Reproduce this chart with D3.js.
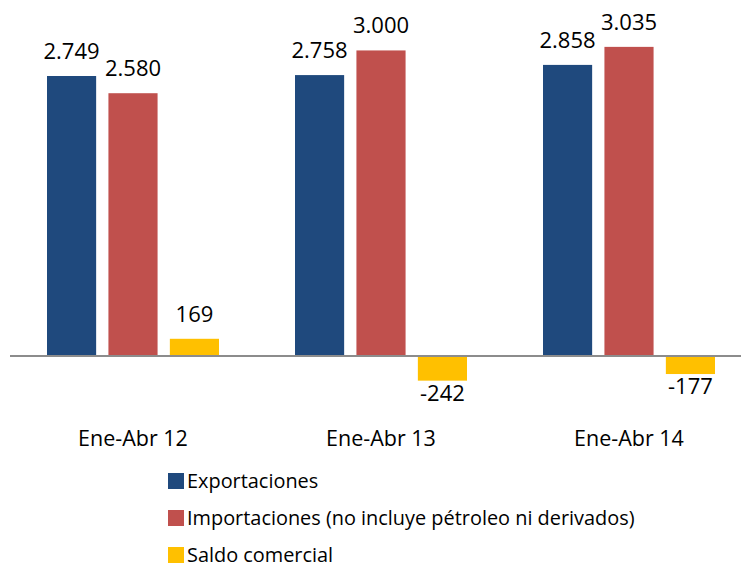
<!DOCTYPE html>
<html>
<head>
<meta charset="utf-8">
<script src="https://cdn.jsdelivr.net/npm/d3@7"></script>
<style>
  body { margin: 0; background: #fff; }
  text { font-family: "Open Sans", sans-serif; fill: #000; }
</style>
</head>
<body>
<svg id="chart" width="741" height="569"></svg>
<script>
const categories = ['Ene-Abr 12', 'Ene-Abr 13', 'Ene-Abr 14']
const seriesNames = ['Exportaciones', 'Importaciones (no incluye pétroleo ni derivados)', 'Saldo comercial']
const exportaciones = [2749, 2758, 2858]
const importaciones = [2580, 3000, 3035]
const saldo = [169, -242, -177]
const colors = ['#1F497D', '#C0504D', '#FFC000']

const seriesValues = [exportaciones, importaciones, saldo]

const svg = d3.select('#chart')
const es = d3.formatLocale({ decimal: ',', thousands: '.', grouping: [3], currency: ['$', ''], minus: '-' })
const fmt = es.format(',.0f')

// outer scale: categories
const x0 = d3.scaleBand()
    .domain(categories)
    .range([9, 753])
    .padding(0)

// inner scale: series within group
const x1 = d3.scaleBand()
    .domain(d3.range(seriesNames.length))
    .range([38, 210])
    .paddingInner(0.2)
    .paddingOuter(0)

const y = d3.scaleLinear()
    .domain([-500, 3500])
    .range([406.93, -0.49])

let data = []
categories.forEach((c, i) => {
    seriesValues.forEach((vals, s) => {
        data.push({ cat: c, series: s, value: vals[i] })
    })
})

const groups = svg.append('g')

groups.selectAll('rect')
    .data(data)
    .join('rect')
    .attr('x', d => x0(d.cat) + x1(d.series))
    .attr('width', x1.bandwidth())
    .attr('y', d => y(Math.max(0, d.value)))
    .attr('height', d => Math.abs(y(d.value) - y(0)))
    .attr('fill', d => colors[d.series])

// zero line
svg.append('line')
    .attr('x1', 10)
    .attr('x2', 741)
    .attr('y1', y(0))
    .attr('y2', y(0))
    .attr('stroke', '#8c8c8c')
    .attr('stroke-width', 2)

// value labels
groups.selectAll('text.val')
    .data(data)
    .join('text')
    .attr('class', 'val')
    .attr('x', d => x0(d.cat) + x1(d.series) + x1.bandwidth() / 2)
    .attr('y', d => d.value >= 0 ? y(d.value) - 17 : y(d.value) + 20)
    .attr('text-anchor', 'middle')
    .attr('font-size', 22)
    .text(d => fmt(d.value))

// category labels
svg.append('g')
    .selectAll('text')
    .data(categories)
    .join('text')
    .attr('x', d => x0(d) + 124)
    .attr('y', 446)
    .attr('text-anchor', 'middle')
    .attr('font-size', 21.5)
    .text(d => d)

// legend
const legend = svg.append('g')
    .selectAll('g')
    .data(seriesNames)
    .join('g')
    .attr('transform', (d, i) => `translate(168, ${473 + i * 37})`)

legend.append('rect')
    .attr('width', 16)
    .attr('height', 16)
    .attr('fill', (d, i) => colors[i])

legend.append('text')
    .attr('x', 19)
    .attr('y', 15)
    .attr('font-size', 19.9)
    .text(d => d)
</script>
</body>
</html>
